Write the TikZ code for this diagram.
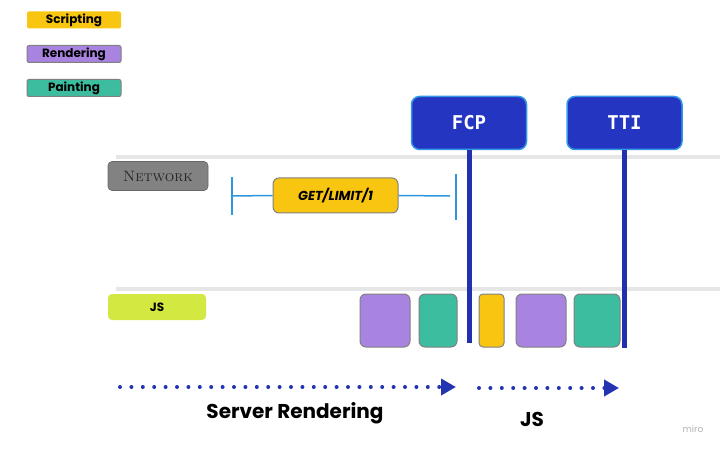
\documentclass[tikz,border=0pt]{standalone}
\usepackage{fontspec}
\usepackage{tikz}
\usetikzlibrary{positioning, arrows.meta}
\usepackage{xcolor}
\newfontfamily\popp{Poppins}
\newfontfamily\monob{DejaVu Sans Mono}
\definecolor{scriptY}{HTML}{F8C511}
\definecolor{renderP}{HTML}{A983E0}
\definecolor{paintT}{HTML}{3DBDA0}
\definecolor{markB}{HTML}{2435C2}
\definecolor{markE}{HTML}{3399E6}
\definecolor{laneG}{HTML}{E6E6E6}
\definecolor{netG}{HTML}{828282}
\definecolor{jsL}{HTML}{D3E840}
\definecolor{spanB}{HTML}{2E96DC}
\definecolor{dotB}{HTML}{2433B0}

\begin{document}
\begin{tikzpicture}[
                x=1pt, y=-1pt,
                legend/.style={rectangle, rounded corners=2pt, minimum width=94pt, minimum height=17pt, inner sep=0pt, font=\popp\bfseries\fontsize{12}{14}\selectfont, draw=gray, line width=1pt},
                marker/.style={rectangle, draw=markE, line width=1.5pt, rounded corners=8pt, fill=markB, minimum width=115pt, minimum height=53pt, text=white, font=\monob\bfseries\fontsize{19}{22}\selectfont},
                task/.style={rectangle, draw=gray, line width=1pt, rounded corners=6pt, minimum height=53pt, inner sep=0pt},
                lane/.style={rectangle, rounded corners=4pt, minimum width=100pt, inner sep=0pt},
                mline/.style={line width=5pt, markB!90!black},
                span/.style={spanB, line width=1.5pt},
                dots/.style={dotB, line width=4pt, line cap=round, dash pattern=on 0pt off 11.4pt, -{Triangle[length=15pt, width=16pt]}},
                caption/.style={font=\popp\bfseries\fontsize{20}{24}\selectfont}
            ]
            \useasboundingbox (0,0) rectangle (720,449);

            % legend
            \node[legend, draw=none, fill=scriptY] (scripting) at (74,20) {Scripting};
            \node[legend, fill=renderP, below=16pt of scripting] (rendering) {Rendering};
            \node[legend, fill=paintT, below=16pt of rendering] (painting) {Painting};

            % lanes
            \draw[laneG, line width=4pt] (116,157) -- (720,157);
            \draw[laneG, line width=4pt] (116,289) -- (720,289);
            \node[lane, fill=netG, draw=netG!80!black, line width=0.6pt, minimum height=29pt, font=\rmfamily\scshape\fontsize{15}{18}\selectfont, text=black!85] (network) at (158,176) {Network};
            \node[lane, fill=jsL, minimum width=98pt, minimum height=26pt, font=\popp\bfseries\fontsize{12}{14}\selectfont] (jslane) at (157,307) {JS};

            % request
            \node[rectangle, draw=gray, line width=1pt, rounded corners=6pt, fill=scriptY, minimum width=125pt, minimum height=35pt, font=\popp\bfseries\itshape\fontsize{13}{15}\selectfont] (get) at (335.5,195.5) {GET/LIMIT/1};
            \coordinate (getL) at (232,196);
            \coordinate (getR) at (456,196);
            \draw[span] (getL) -- (get.west);
            \draw[span] (get.east) -- ([xshift=-6pt]getR);
            \draw[span] ([yshift=-19pt]getL) -- ([yshift=19pt]getL);
            \draw[span] ([yshift=-24pt]getR) -- ([yshift=22pt]getR);

            % tasks
            \node[task, fill=renderP, minimum width=50pt] (r1) at (385,320.5) {};
            \node[task, fill=paintT, minimum width=38pt, right=8pt of r1] (p1) {};
            \node[task, fill=scriptY, minimum width=25pt, rounded corners=4pt] (s1) at (491.5,320.5) {};
            \node[task, fill=renderP, minimum width=50pt, right=11pt of s1] (r2) {};
            \node[task, fill=paintT, minimum width=46pt, right=7pt of r2] (p2) {};

            % markers
            \node[marker] (fcp) at (469,123) {FCP};
            \node[marker] (tti) at (624.5,123) {TTI};
            \coordinate (fcpEnd) at (469,343);
            \coordinate (ttiEnd) at (624.5,348);
            \draw[mline] (fcp.south) -- (fcpEnd);
            \draw[mline] (tti.south) -- (ttiEnd);

            % phases
            \coordinate (srStart) at (120,387);
            \coordinate (srEnd) at (456,387);
            \coordinate (jsStart) at (479,388);
            \coordinate (jsEnd) at (619,388);
            \draw[dots] (srStart) -- (srEnd);
            \draw[dots] (jsStart) -- (jsEnd);
            \node[caption] (server) at (295,413) {Server Rendering};
            \node[caption] (jsphase) at (532,419) {JS};

            \node[text=black!30, font=\popp\fontsize{9}{11}\selectfont] (miro) at (693,429) {miro};
        \end{tikzpicture}
\end{document}
